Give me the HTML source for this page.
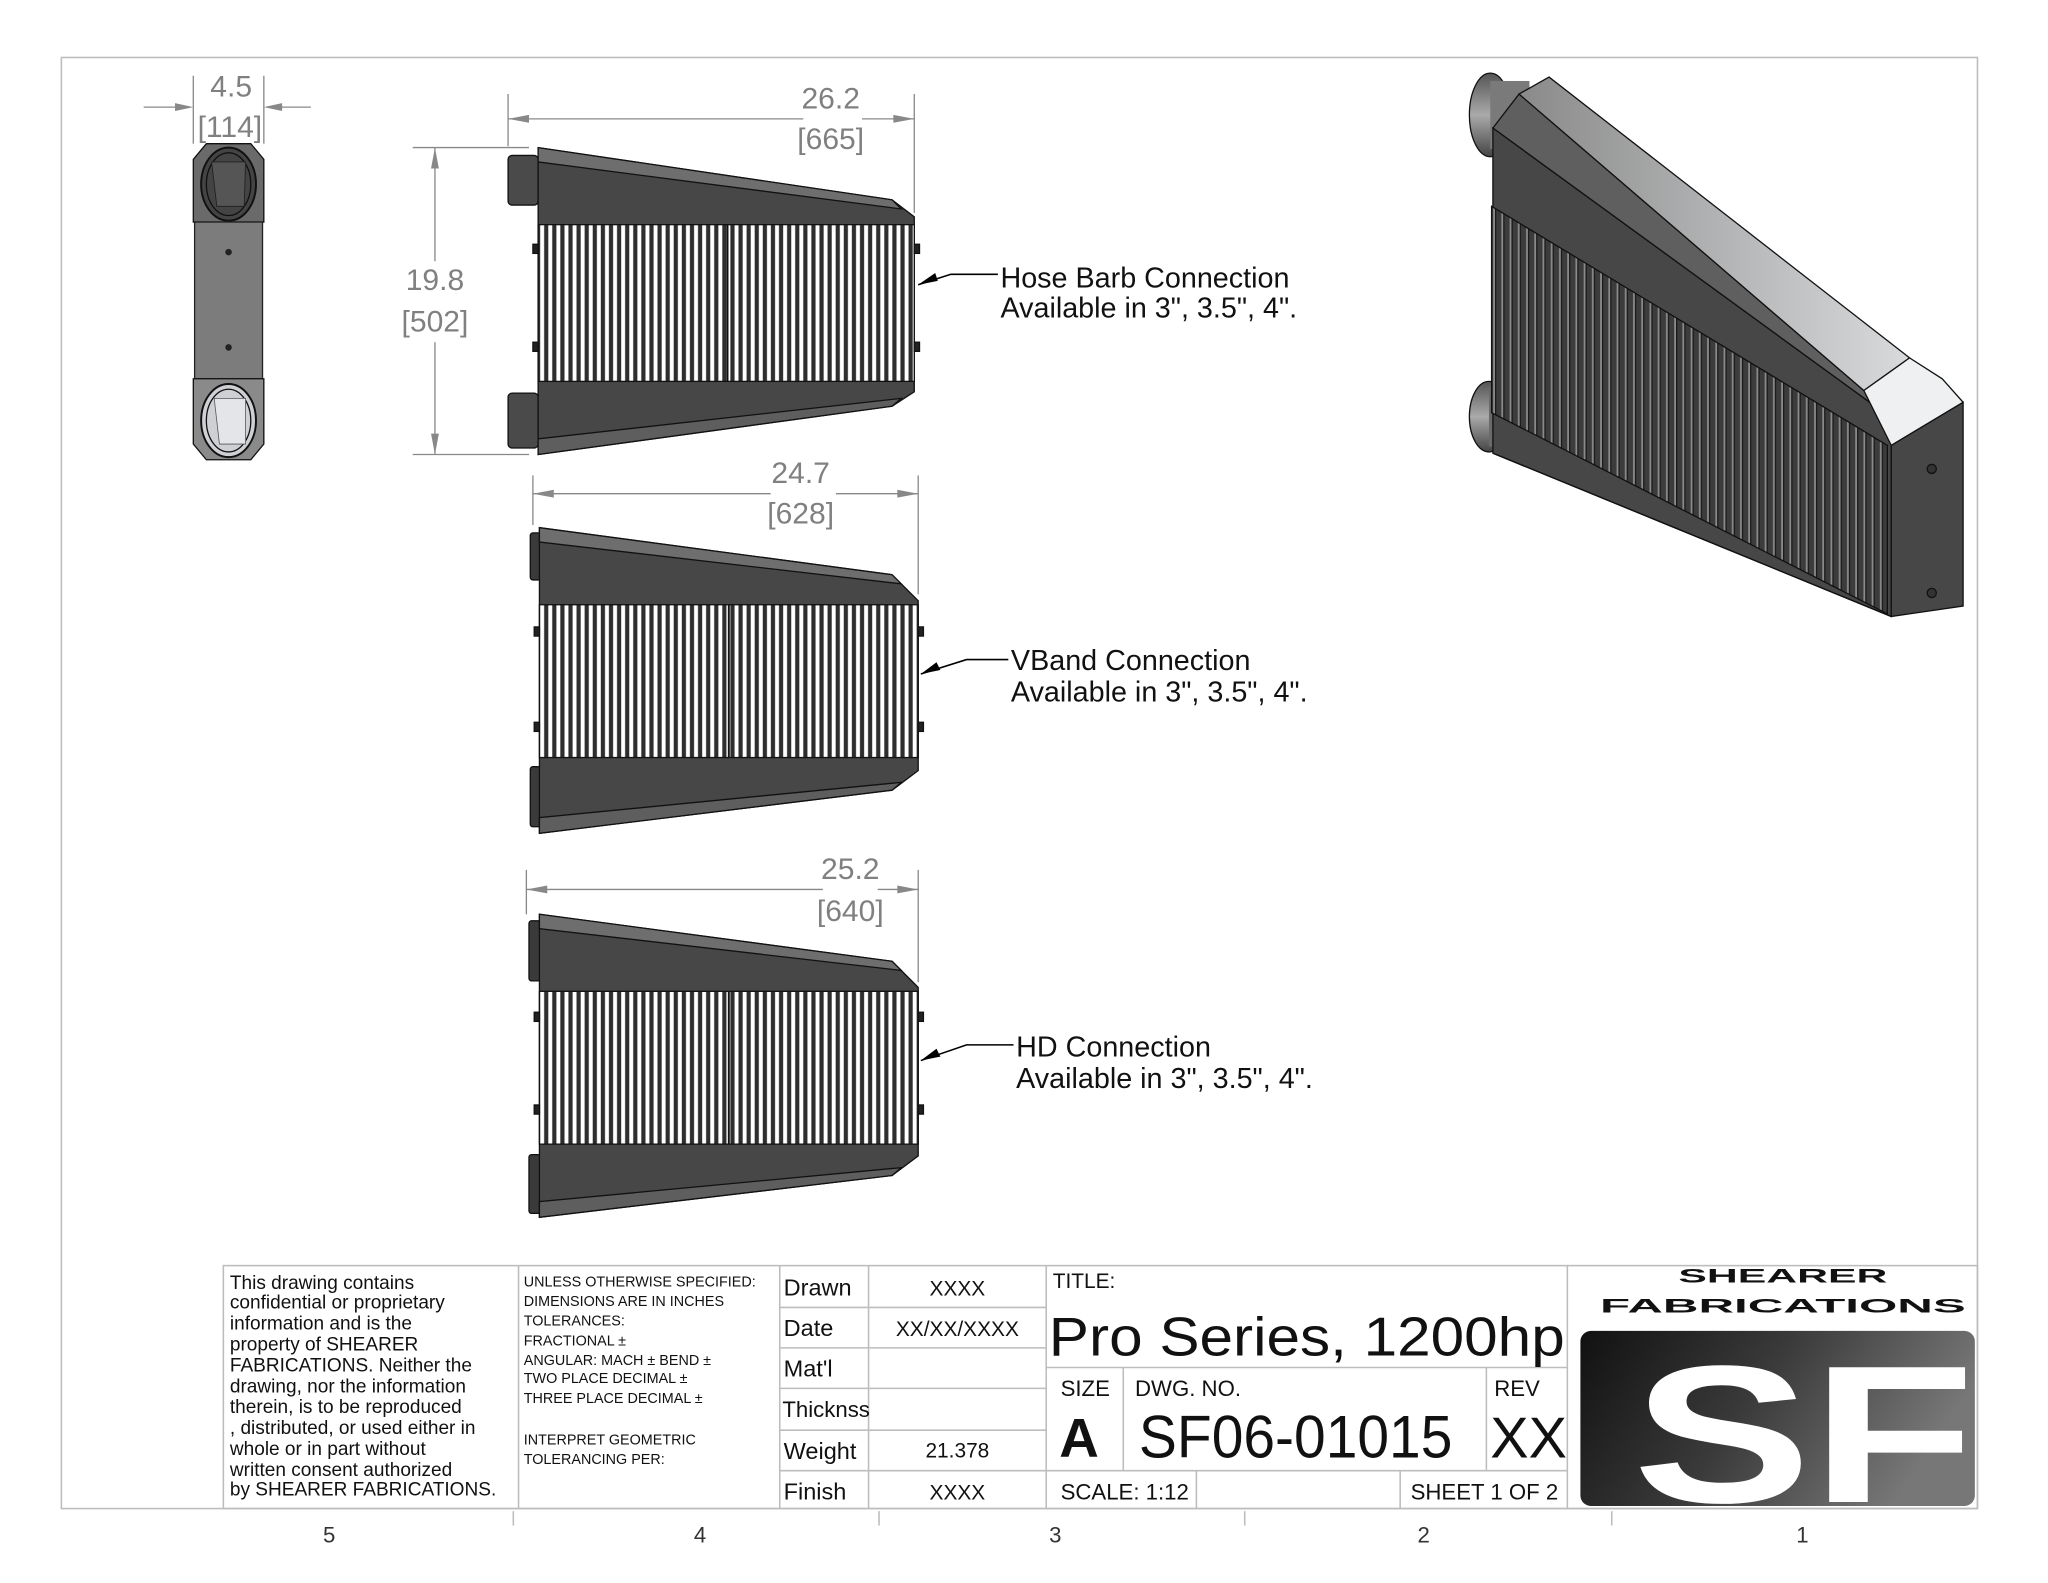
<!DOCTYPE html>
<html><head><meta charset="utf-8"><style>
html,body{margin:0;padding:0;background:#fff;width:2048px;height:1583px;overflow:hidden}
svg{display:block}
text{font-family:"Liberation Sans",sans-serif}
</style></head><body>
<svg width="2048" height="1583" viewBox="0 0 1568 1212" preserveAspectRatio="none" xmlns="http://www.w3.org/2000/svg">
<defs>
<pattern id="fin" patternUnits="userSpaceOnUse" width="6.2" height="400" x="412" y="0">
<rect width="6.2" height="400" fill="#2e2e2e"/><rect x="1.6" y="0" width="3" height="400" fill="#fff"/>
</pattern>
<pattern id="fin2" patternUnits="userSpaceOnUse" width="6.3" height="600" x="1142" y="0">
<rect width="6.3" height="600" fill="#3c3c3c"/><rect x="1.2" width="1.4" height="600" fill="#8a8a8a"/><rect x="2.6" width="1" height="600" fill="#1a1a1a"/>
</pattern>
<linearGradient id="lg" x1="0" y1="0" x2="1" y2="0.3"><stop offset="0" stop-color="#111"/><stop offset="0.5" stop-color="#3a3a3a"/><stop offset="1" stop-color="#777"/></linearGradient>
<linearGradient id="cyl" x1="0" y1="0" x2="0" y2="1"><stop offset="0" stop-color="#555"/><stop offset="0.5" stop-color="#aaa"/><stop offset="1" stop-color="#444"/></linearGradient>
<linearGradient id="topf" x1="0" y1="0" x2="1" y2="0"><stop offset="0" stop-color="#8a8a8a"/><stop offset="1" stop-color="#d8dadc"/></linearGradient>
</defs>

<rect x="47" y="44" width="1467" height="1111" fill="none" stroke="#bdbdbd" stroke-width="1.2"/>

<!-- SIDE VIEW -->
<g stroke="#888" stroke-width="1" fill="#888">
<line x1="148" y1="58" x2="148" y2="110"/><line x1="202" y1="58" x2="202" y2="110"/>
<line x1="110" y1="82" x2="136" y2="82"/><polygon points="148,82 134,79 134,85" stroke="none"/>
<line x1="214" y1="82" x2="238" y2="82"/><polygon points="202,82 216,79 216,85" stroke="none"/>
</g>
<text x="177" y="74" font-size="23" fill="#808080" text-anchor="middle">4.5</text>
<text x="176" y="105" font-size="23" fill="#808080" text-anchor="middle">[114]</text>
<polygon points="158,110 192,110 202,122 202,170 148,170 148,122" fill="#6a6a6a" stroke="#111"/>
<ellipse cx="175" cy="141" rx="21" ry="28" fill="#444" stroke="#111" stroke-width="1.5"/>
<ellipse cx="175" cy="141" rx="17" ry="24" fill="none" stroke="#111"/>
<polygon points="162,124 188,124 187,158 166,158" fill="#555" stroke="#222" stroke-width="0.7"/>
<rect x="149" y="170" width="52" height="120" fill="#7c7c7c" stroke="#222"/>
<circle cx="175" cy="193" r="2.5" fill="#222"/><circle cx="175" cy="266" r="2.5" fill="#222"/>
<polygon points="148,290 202,290 202,340 192,352 158,352 148,340" fill="#8a8a8a" stroke="#111"/>
<ellipse cx="175" cy="322" rx="21" ry="28" fill="#cfd0d4" stroke="#111" stroke-width="1.5"/>
<ellipse cx="175" cy="322" rx="17" ry="24" fill="none" stroke="#111"/>
<polygon points="164,305 188,305 188,340 168,340" fill="#e4e5e8" stroke="#555" stroke-width="0.6"/>

<!-- VIEW 1 -->
<g stroke="#888" stroke-width="1" fill="#888">
<line x1="389" y1="72" x2="389" y2="112"/><line x1="700" y1="72" x2="700" y2="163"/>
<line x1="389" y1="91" x2="615" y2="91"/><line x1="660" y1="91" x2="700" y2="91"/>
<polygon points="389,91 405,88 405,94" stroke="none"/><polygon points="700,91 684,88 684,94" stroke="none"/>
<line x1="316" y1="113" x2="405" y2="113"/><line x1="316" y1="348" x2="405" y2="348"/>
<line x1="333" y1="113" x2="333" y2="200"/><line x1="333" y1="262" x2="333" y2="348"/>
<polygon points="333,113 330,129 336,129" stroke="none"/><polygon points="333,348 330,332 336,332" stroke="none"/>
</g>
<text x="636" y="83" font-size="23" fill="#808080" text-anchor="middle">26.2</text>
<text x="636" y="114" font-size="23" fill="#808080" text-anchor="middle">[665]</text>
<text x="333" y="222" font-size="23" fill="#808080" text-anchor="middle">19.8</text>
<text x="333" y="254" font-size="23" fill="#808080" text-anchor="middle">[502]</text>
<g stroke="#111" stroke-width="1">
<rect x="389" y="119" width="23" height="38" rx="3" fill="#4a4a4a"/>
<rect x="389" y="301" width="23" height="42" rx="3" fill="#4a4a4a"/>
<polygon points="412,113 683,153 700,166 700,300 683,311 412,348" fill="#474747"/>
<polygon points="412,113 683,153 690,160 412,124" fill="#6e6e6e"/>
<polygon points="412,348 683,311 690,305 412,336" fill="#5e5e5e"/>
<rect x="412" y="172" width="288" height="120" fill="url(#fin)"/>
<line x1="557" y1="172" x2="557" y2="292" stroke-width="1.5"/>
<rect x="408" y="187" width="4" height="7" fill="#222"/><rect x="408" y="262" width="4" height="7" fill="#222"/>
<rect x="700" y="187" width="4" height="7" fill="#222"/><rect x="700" y="262" width="4" height="7" fill="#222"/>
</g>
<polyline points="703,218 728,210 764,210" fill="none" stroke="#000" stroke-width="1.2"/>
<polygon points="703,218 716,209 718,215" fill="#000"/>
<text x="766" y="220" font-size="22" fill="#111">Hose Barb Connection</text>
<text x="766" y="243" font-size="22" fill="#111">Available in 3", 3.5", 4".</text>

<!-- VIEW 2 -->
<g stroke="#888" stroke-width="1" fill="#888">
<line x1="408" y1="364" x2="408" y2="402"/><line x1="703" y1="364" x2="703" y2="455"/>
<line x1="408" y1="378" x2="590" y2="378"/><line x1="640" y1="378" x2="703" y2="378"/>
<polygon points="408,378 424,375 424,381" stroke="none"/><polygon points="703,378 687,375 687,381" stroke="none"/>
</g>
<text x="613" y="370" font-size="23" fill="#808080" text-anchor="middle">24.7</text>
<text x="613" y="401" font-size="23" fill="#808080" text-anchor="middle">[628]</text>
<g stroke="#111" stroke-width="1">
<rect x="406" y="408" width="8" height="36" rx="2" fill="#3a3a3a"/>
<rect x="406" y="587" width="8" height="46" rx="2" fill="#3a3a3a"/>
<polygon points="413,404 683,440 703,460 703,590 683,605 413,638" fill="#474747"/>
<polygon points="413,404 683,440 690,447 413,415" fill="#6e6e6e"/>
<polygon points="413,638 683,605 690,599 413,626" fill="#5e5e5e"/>
<rect x="413" y="463" width="290" height="117" fill="url(#fin)"/>
<line x1="558" y1="463" x2="558" y2="580" stroke-width="1.5"/>
<rect x="409" y="480" width="4" height="7" fill="#222"/><rect x="409" y="553" width="4" height="7" fill="#222"/>
<rect x="703" y="480" width="4" height="7" fill="#222"/><rect x="703" y="553" width="4" height="7" fill="#222"/>
</g>
<polyline points="705,516 740,505 772,505" fill="none" stroke="#000" stroke-width="1.2"/>
<polygon points="705,516 717,507 720,513" fill="#000"/>
<text x="774" y="513" font-size="22" fill="#111">VBand Connection</text>
<text x="774" y="537" font-size="22" fill="#111">Available in 3", 3.5", 4".</text>

<!-- VIEW 3 -->
<g stroke="#888" stroke-width="1" fill="#888">
<line x1="403" y1="666" x2="403" y2="700"/><line x1="703" y1="666" x2="703" y2="752"/>
<line x1="403" y1="681" x2="630" y2="681"/><line x1="672" y1="681" x2="703" y2="681"/>
<polygon points="403,681 419,678 419,684" stroke="none"/><polygon points="703,681 687,678 687,684" stroke="none"/>
</g>
<text x="651" y="673" font-size="23" fill="#808080" text-anchor="middle">25.2</text>
<text x="651" y="705" font-size="23" fill="#808080" text-anchor="middle">[640]</text>
<g stroke="#111" stroke-width="1">
<rect x="405" y="705" width="9" height="46" rx="2" fill="#3a3a3a"/>
<rect x="405" y="884" width="9" height="45" rx="2" fill="#3a3a3a"/>
<polygon points="413,700 683,736 703,756 703,885 683,900 413,932" fill="#474747"/>
<polygon points="413,700 683,736 690,743 413,711" fill="#6e6e6e"/>
<polygon points="413,932 683,900 690,894 413,920" fill="#5e5e5e"/>
<rect x="413" y="759" width="290" height="117" fill="url(#fin)"/>
<line x1="558" y1="759" x2="558" y2="876" stroke-width="1.5"/>
<rect x="409" y="775" width="4" height="7" fill="#222"/><rect x="409" y="846" width="4" height="7" fill="#222"/>
<rect x="703" y="775" width="4" height="7" fill="#222"/><rect x="703" y="846" width="4" height="7" fill="#222"/>
</g>
<polyline points="705,812 740,800 776,800" fill="none" stroke="#000" stroke-width="1.2"/>
<polygon points="705,812 717,803 720,809" fill="#000"/>
<text x="778" y="809" font-size="22" fill="#111">HD Connection</text>
<text x="778" y="833" font-size="22" fill="#111">Available in 3", 3.5", 4".</text>

<!-- ISOMETRIC -->
<g stroke="#111" stroke-width="1">
<ellipse cx="1141" cy="88" rx="16" ry="32" fill="url(#cyl)"/>
<rect x="1141" y="62" width="30" height="52" fill="#7a7a7a" stroke="none"/>
<ellipse cx="1140" cy="319" rx="15" ry="27" fill="url(#cyl)"/>
<rect x="1140" y="296" width="12" height="46" fill="#6a6a6a" stroke="none"/>
<polygon points="1143,98 1448,320 1448,472 1143,347" fill="#474747"/>
<polygon points="1143,98 1163,72 1427,299 1448,320" fill="#5f5f5f"/>
<polygon points="1163,72 1186,59 1462,274 1427,299" fill="url(#topf)"/>
<polygon points="1427,299 1462,274 1487,290 1503,308 1448,341" fill="#eef0f2"/>
<polygon points="1448,341 1503,308 1503,464 1448,472" fill="#474747"/>
<polygon points="1142,158 1445,341 1445,470 1142,316" fill="url(#fin2)"/>
<line x1="1143" y1="347" x2="1448" y2="472"/>
<circle cx="1479" cy="359" r="3.5" fill="#333"/><circle cx="1479" cy="454" r="3.5" fill="#333"/>
</g>

<!-- TITLE BLOCK -->
<g stroke="#bdbdbd" stroke-width="1.2" fill="none">
<rect x="171" y="969" width="1343" height="186"/>
<line x1="397" y1="969" x2="397" y2="1155"/><line x1="597" y1="969" x2="597" y2="1155"/>
<line x1="665" y1="969" x2="665" y2="1155"/><line x1="801" y1="969" x2="801" y2="1155"/>
<line x1="1200" y1="969" x2="1200" y2="1155"/>
<line x1="597" y1="1001" x2="801" y2="1001"/><line x1="597" y1="1032" x2="801" y2="1032"/>
<line x1="597" y1="1063" x2="801" y2="1063"/><line x1="597" y1="1095" x2="801" y2="1095"/>
<line x1="597" y1="1126" x2="1200" y2="1126"/><line x1="801" y1="1047" x2="1200" y2="1047"/>
<line x1="860" y1="1047" x2="860" y2="1126"/><line x1="1138" y1="1047" x2="1138" y2="1126"/>
<line x1="916" y1="1126" x2="916" y2="1155"/><line x1="1072" y1="1126" x2="1072" y2="1155"/>
<line x1="393" y1="1157" x2="393" y2="1168"/><line x1="673" y1="1157" x2="673" y2="1168"/>
<line x1="953" y1="1157" x2="953" y2="1168"/><line x1="1234" y1="1157" x2="1234" y2="1168"/>
</g>
<g font-size="14.6" fill="#111">
<text x="176" y="987">This drawing contains</text>
<text x="176" y="1002">confidential or proprietary</text>
<text x="176" y="1018">information and is the</text>
<text x="176" y="1034">property of SHEARER</text>
<text x="176" y="1050">FABRICATIONS. Neither the</text>
<text x="176" y="1066">drawing, nor the information</text>
<text x="176" y="1082">therein, is to be reproduced</text>
<text x="176" y="1098">, distributed, or used either in</text>
<text x="176" y="1114">whole or in part without</text>
<text x="176" y="1130">written consent authorized</text>
<text x="176" y="1145">by SHEARER FABRICATIONS.</text>
</g>
<g font-size="11" fill="#111">
<text x="401" y="985">UNLESS OTHERWISE SPECIFIED:</text>
<text x="401" y="1000">DIMENSIONS ARE IN INCHES</text>
<text x="401" y="1015">TOLERANCES:</text>
<text x="401" y="1030">FRACTIONAL ±</text>
<text x="401" y="1045">ANGULAR: MACH ±    BEND  ±</text>
<text x="401" y="1059">TWO PLACE DECIMAL    ±</text>
<text x="401" y="1074">THREE PLACE DECIMAL  ±</text>
<text x="401" y="1106">INTERPRET GEOMETRIC</text>
<text x="401" y="1121">TOLERANCING PER:</text>
</g>
<g font-size="18" fill="#111">
<text x="600" y="992">Drawn</text><text x="600" y="1023">Date</text><text x="600" y="1054">Mat'l</text>
<text x="599" y="1085" font-size="17">Thicknss</text><text x="600" y="1117">Weight</text><text x="600" y="1148">Finish</text>
</g>
<g font-size="16" fill="#111" text-anchor="middle">
<text x="733" y="992">XXXX</text><text x="733" y="1023">XX/XX/XXXX</text>
<text x="733" y="1116">21.378</text><text x="733" y="1148">XXXX</text>
</g>
<text x="806" y="986" font-size="16" fill="#111">TITLE:</text>
<text x="803" y="1038" font-size="42" fill="#111" textLength="395" lengthAdjust="spacingAndGlyphs">Pro Series, 1200hp</text>
<text x="812" y="1069" font-size="17" fill="#111">SIZE</text>
<text x="869" y="1069" font-size="17" fill="#111">DWG.  NO.</text>
<text x="1144" y="1069" font-size="17" fill="#111">REV</text>
<text x="811" y="1115" font-size="42" font-weight="bold" fill="#111">A</text>
<text x="872" y="1116" font-size="46" fill="#111" textLength="240" lengthAdjust="spacingAndGlyphs">SF06-01015</text>
<text x="1141" y="1116" font-size="44" fill="#111">XX</text>
<text x="812" y="1148" font-size="17" fill="#111">SCALE: 1:12</text>
<text x="1080" y="1148" font-size="17" fill="#111">SHEET 1 OF 2</text>
<text x="1365" y="982" font-size="15" font-weight="bold" fill="#111" text-anchor="middle" textLength="160" lengthAdjust="spacingAndGlyphs">SHEARER</text>
<text x="1365" y="1005" font-size="15" font-weight="bold" fill="#111" text-anchor="middle" textLength="280" lengthAdjust="spacingAndGlyphs">FABRICATIONS</text>
<rect x="1210" y="1019" width="302" height="134" rx="8" fill="url(#lg)"/>
<text x="1250" y="1150" font-size="150" font-weight="bold" fill="#fff" textLength="262" lengthAdjust="spacingAndGlyphs">SF</text>
<g font-size="17" fill="#333" text-anchor="middle">
<text x="252" y="1181">5</text><text x="536" y="1181">4</text><text x="808" y="1181">3</text>
<text x="1090" y="1181">2</text><text x="1380" y="1181">1</text>
</g>
</svg>
</body></html>
